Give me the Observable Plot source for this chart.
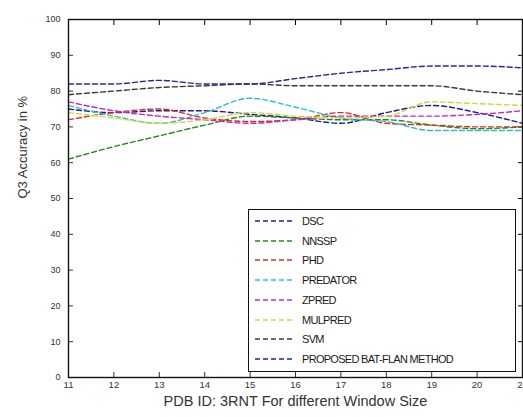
<!DOCTYPE html>
<html><head><meta charset="utf-8">
<script src="https://cdn.jsdelivr.net/npm/d3@7"></script>
<script src="https://cdn.jsdelivr.net/npm/@observablehq/plot@0.6"></script>
<style>
body{margin:0;background:#fff;font-family:"Liberation Sans",Arial,sans-serif;}
#wrap{position:relative;width:523px;height:417px;overflow:hidden;}
#legend{position:absolute;left:248px;top:209px;width:268px;height:163px;border:1.4px solid #111;background:#fff;box-sizing:border-box;}
.row{position:absolute;left:6px;height:14px;display:flex;align-items:center;font-size:11px;color:#1a1a1a;letter-spacing:-0.7px;}
.row svg{margin-right:7px;}
</style></head>
<body><div id="wrap"><div id="legend"></div></div>
<script>
const windowSizes = [11,12,13,14,15,16,17,18,19,20,21];
const seriesNames = ["DSC","NNSSP","PHD","PREDATOR","ZPRED","MULPRED","SVM","PROPOSED BAT-FLAN METHOD"];
const seriesColors = ["#1c1c9a","#1f8a1f","#d9301e","#2cc0c4","#c02cc0","#d6d63a","#3a3a3a","#26269e"];
const dsc      = [75,74,74.5,74.5,73.5,72.5,71,74,76,74,71];
const nnssp    = [61,64.5,67.5,70.5,73,72.5,72,72,70.5,69.5,70];
const phd      = [72,74,75,72.5,71.5,72,74,71,70.5,70,70];
const predator = [76,73,71,74,78,75.5,72.5,71.5,69,69,69];
const zpred    = [77,74.5,73,72,71,72,73,73,73,73.5,74.5];
const mulpred  = [74,72.5,71,72,74,73,72.5,73,77,76.5,76];
const svm      = [79,80,81,81.5,82,81.5,81.5,81.5,81.5,80,79];
const proposed = [82,82,83,82,82,83.5,85,86,87,87,86.5];
const allValues = [dsc,nnssp,phd,predator,zpred,mulpred,svm,proposed];
const yTicks = [0,10,20,30,40,50,60,70,80,90,100];

const data = [];
seriesNames.forEach((s,i)=>windowSizes.forEach((w,j)=>data.push({series:s,w,v:allValues[i][j]})));

const plot = Plot.plot({
  width:523, height:417,
  marginLeft:68, marginRight:1, marginTop:19, marginBottom:40,
  style:{fontFamily:"Liberation Sans, Arial, sans-serif", background:"#fff", overflow:"visible"},
  x:{domain:[11,21], ticks:windowSizes},
  y:{domain:[0,100], ticks:yTicks},
  color:{domain:seriesNames, range:seriesColors},
  marks:[
    Plot.axisY({ticks:yTicks, tickSize:-5, tickPadding:13, fontSize:9, label:null, color:"#333"}),
    Plot.axisY({ticks:yTicks, anchor:"right", tickSize:-5, tickFormat:()=>"", label:null}),
    Plot.axisX({ticks:windowSizes, tickSize:-5, tickPadding:9, fontSize:9.5, label:null, color:"#333"}),
    Plot.axisX({ticks:windowSizes, anchor:"top", tickSize:-5, tickFormat:()=>"", label:null}),
    Plot.line(data,{x:"w",y:"v",z:"series",stroke:"series",curve:"monotone-x",strokeWidth:1.4,strokeDasharray:"5,3"}),
    Plot.frame({stroke:"#111", strokeWidth:1.4}),
    Plot.text(["PDB ID: 3RNT For different Window Size"],{frameAnchor:"bottom",dy:28,fontSize:14.5,fill:"#333",text:d=>d}),
    Plot.text(["Q3 Accuracy in %"],{frameAnchor:"left",dx:-46,rotate:-90,fontSize:13,fill:"#333",text:d=>d})
  ]
});
const wrap = document.getElementById("wrap");
wrap.insertBefore(plot, wrap.firstChild);

const legend = document.getElementById("legend");
seriesNames.forEach((s,i)=>{
  const row = document.createElement("div");
  row.className="row";
  row.style.top = (4 + i*19.7) + "px";
  row.innerHTML = `<svg width="40" height="4"><line x1="0" y1="2" x2="40" y2="2" stroke="${seriesColors[i]}" stroke-width="1.4" stroke-dasharray="5,3"/></svg><span>${s}</span>`;
  legend.appendChild(row);
});
</script></body></html>
